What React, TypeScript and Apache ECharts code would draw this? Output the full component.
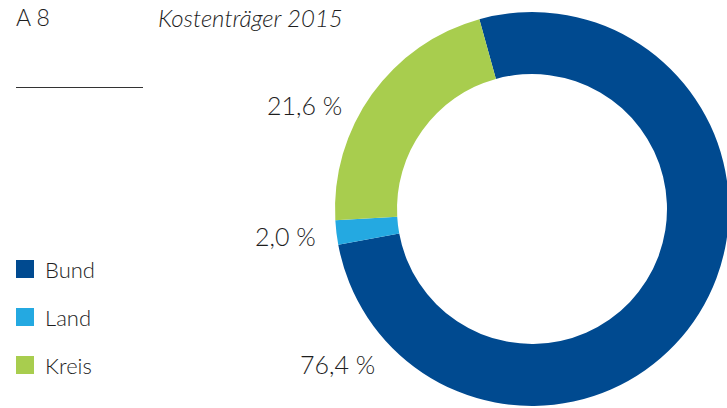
import React, { useEffect, useRef } from "react";
import * as echarts from "echarts";

const categories = ["Bund", "Land", "Kreis"];
const values = [76.4, 2.0, 21.6];
const labelTexts = ["76,4 %", "2,0 %", "21,6 %"];
const colors = ["#004a90", "#24a9e1", "#a8cd4e"];
const title = "A 8";
const subtitle = "Kostenträger 2015";

const FONT = "Lato, 'Open Sans', sans-serif";
const TEXT = "#1e1e1e";

const labelPos = [
  [300, 351],
  [255, 223],
  [267, 92],
];

export default function App() {
  const ref = useRef<HTMLDivElement>(null);
  useEffect(() => {
    const chart = echarts.init(ref.current!, undefined, { renderer: "svg" });
    chart.setOption({
      animation: false,
      color: colors,
      legend: {
        orient: "vertical",
        left: 16,
        top: 258,
        padding: 0,
        itemWidth: 18,
        itemHeight: 18,
        itemGap: 26,
        icon: "rect",
        selectedMode: false,
        data: categories,
        textStyle: {
          fontFamily: FONT,
          fontSize: 22,
          lineHeight: 18,
          fontWeight: 300,
          color: TEXT,
          padding: [0, 0, 0, 6],
        },
      },
      graphic: [
        {
          type: "text",
          left: 16,
          top: 5,
          style: { text: title, fontFamily: FONT, fontSize: 23, fontWeight: 300, fill: TEXT },
        },
        {
          type: "text",
          left: 158,
          top: 5,
          style: {
            text: subtitle,
            fontFamily: FONT,
            fontSize: 24,
            fontStyle: "italic",
            fontWeight: 300,
            fill: TEXT,
          },
        },
        {
          type: "line",
          shape: { x1: 16, y1: 87.5, x2: 143, y2: 87.5 },
          style: { stroke: "#333", lineWidth: 1 },
        },
        ...labelTexts.map((t, i) => ({
          type: "text",
          left: labelPos[i][0],
          top: labelPos[i][1],
          style: { text: t, fontFamily: FONT, fontSize: 25, fontWeight: 300, fill: TEXT },
        })),
      ],
      series: [
        {
          type: "pie",
          center: [532, 209],
          radius: [135, 197],
          startAngle: 105.5,
          clockwise: true,
          label: { show: false },
          labelLine: { show: false },
          itemStyle: { borderWidth: 0 },
          emphasis: { disabled: true },
          data: categories.map((c, i) => ({ name: c, value: values[i] })),
        },
      ],
    });
    return () => chart.dispose();
  }, []);
  return <div ref={ref} style={{ width: 727, height: 408, position: "absolute", left: 0, top: 0 }} />;
}
